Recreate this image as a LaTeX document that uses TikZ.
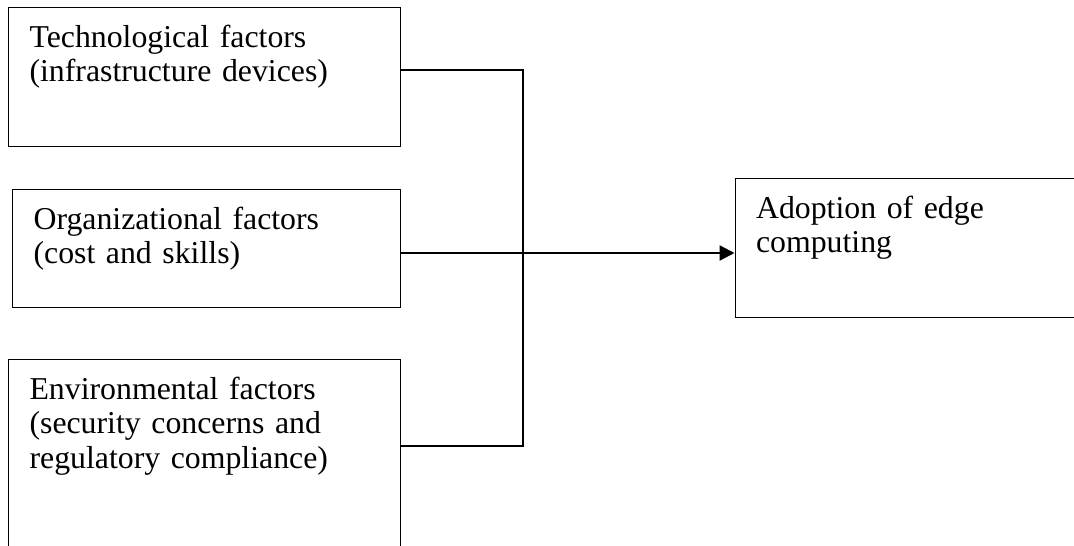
\documentclass[tikz,border=0pt]{standalone}
\usepackage{fontspec}
\setmainfont{Liberation Serif}
\usetikzlibrary{calc,arrows.meta}

\tikzset{
  factor/.style={draw, line width=1.1pt, anchor=north west, inner xsep=21pt,
    inner ysep=0pt, align=left, text height=39.5pt,
    font=\fontsize{31.8}{34.8}\selectfont},
}

\begin{document}
\begin{tikzpicture}[x=1pt,y=-1pt]
    \def\jx{523}  % x of the joining line

    % Fix the page size
    \useasboundingbox (0,0) rectangle (1074,546);
    \clip (0,0) rectangle (1074,546);

    % Draw the factor boxes
    \node[factor, text width=349.5pt, text depth=99.5pt] (tech) at (8,7)
        {Technological factors\\(infrastructure devices)};
    \node[factor, text width=345.5pt, text depth=78.5pt] (org) at (12,189)
        {Organizational factors\\(cost and skills)};
    \node[factor, text width=349.5pt, text depth=160pt] (env) at (8,359)
        {Environmental factors\\(security concerns and\\regulatory compliance)};

    % Draw the outcome box
    \node[factor, text width=310pt, text depth=99.5pt] (adopt) at (734.5,178)
        {Adoption of edge\\computing};

    % Joining points
    \coordinate (jt) at (\jx,70);
    \coordinate (jm) at (\jx,253);
    \coordinate (je) at (\jx,446);

    % Draw lines
    \draw[line width=1.1pt] (tech.east |- jt) -- (jt) -- (je) -- (env.east |- je);
    \draw[line width=2.3pt, -{Triangle[length=15pt,width=15pt]}] (org.east |- jm) -- (adopt.west |- jm);

\end{tikzpicture}
\end{document}
